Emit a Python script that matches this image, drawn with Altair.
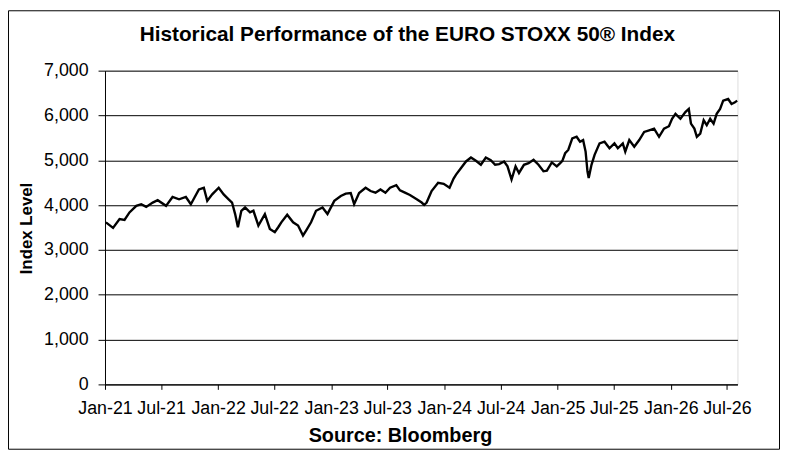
import altair as alt
import pandas as pd

dates = [
    "2021-01-04", "2021-01-27", "2021-02-17", "2021-03-05", "2021-03-21", "2021-04-12",
    "2021-04-28", "2021-05-14", "2021-06-04", "2021-06-20", "2021-07-17", "2021-08-07",
    "2021-08-28", "2021-09-19", "2021-10-05", "2021-10-31", "2021-11-16", "2021-11-27",
    "2021-12-13", "2022-01-03", "2022-01-19", "2022-02-04", "2022-02-15", "2022-02-25",
    "2022-03-06", "2022-03-17", "2022-03-29", "2022-04-14", "2022-04-25", "2022-05-11",
    "2022-06-01", "2022-06-17", "2022-07-03", "2022-07-14", "2022-07-24", "2022-08-12",
    "2022-08-31", "2022-09-16", "2022-10-02", "2022-10-12", "2022-10-28", "2022-11-13",
    "2022-12-04", "2022-12-20", "2023-01-11", "2023-02-01", "2023-02-17", "2023-03-05",
    "2023-03-16", "2023-04-01", "2023-04-22", "2023-05-08", "2023-05-24", "2023-06-09",
    "2023-06-25", "2023-07-10", "2023-07-30", "2023-08-11", "2023-08-27", "2023-09-12",
    "2023-10-04", "2023-10-20", "2023-10-28", "2023-11-05", "2023-11-21", "2023-12-12",
    "2023-12-30", "2024-01-18", "2024-01-31", "2024-02-08", "2024-02-24", "2024-03-11",
    "2024-03-27", "2024-04-12", "2024-04-28", "2024-05-14", "2024-05-30", "2024-06-13",
    "2024-06-26", "2024-07-12", "2024-07-23", "2024-08-05", "2024-08-18", "2024-08-29",
    "2024-09-14", "2024-09-29", "2024-10-15", "2024-10-31", "2024-11-16", "2024-11-27",
    "2024-12-13", "2024-12-29", "2025-01-09", "2025-01-16", "2025-01-25", "2025-02-04",
    "2025-02-17", "2025-03-03", "2025-03-14", "2025-03-24", "2025-04-01", "2025-04-07",
    "2025-04-11", "2025-04-20", "2025-04-30", "2025-05-16", "2025-06-01", "2025-06-17",
    "2025-07-03", "2025-07-14", "2025-07-30", "2025-08-07", "2025-08-20", "2025-09-05",
    "2025-09-21", "2025-10-07", "2025-10-23", "2025-11-08", "2025-11-24", "2025-12-10",
    "2025-12-26", "2026-01-05", "2026-01-16", "2026-02-01", "2026-02-17", "2026-02-28",
    "2026-03-07", "2026-03-18", "2026-03-26", "2026-04-06", "2026-04-17", "2026-04-27",
    "2026-05-08", "2026-05-19", "2026-05-29", "2026-06-09", "2026-06-19", "2026-07-05",
    "2026-07-16", "2026-07-27", "2026-08-03",
]
values = [
    3616, 3493, 3690, 3670, 3837, 3984,
    4020, 3960, 4057, 4110, 3984, 4182,
    4130, 4182, 4020, 4351, 4387, 4095,
    4240, 4387, 4240, 4130, 4057, 3800,
    3506, 3874, 3947, 3837, 3874, 3544,
    3800, 3470, 3396, 3506, 3616, 3786,
    3616, 3544, 3323, 3433, 3616, 3874,
    3947, 3800, 4094, 4204, 4255, 4270,
    4020, 4270, 4387, 4314, 4277, 4350,
    4277, 4387, 4446, 4329, 4277, 4226,
    4131, 4057, 4006, 4057, 4314, 4497,
    4475, 4387, 4593, 4681, 4827, 4974,
    5062, 4988, 4900, 5062, 5004, 4900,
    4915, 4974, 4864, 4571, 4864, 4717,
    4900, 4937, 5011, 4900, 4754, 4768,
    4952, 4864, 4937, 4988, 5157, 5231,
    5488, 5525, 5415, 5450, 5194, 4754,
    4607, 4900, 5121, 5377, 5415, 5268,
    5377, 5268, 5377, 5194, 5451, 5304,
    5451, 5634, 5670, 5707, 5524, 5707,
    5760, 5927, 6037, 5927, 6075, 6147,
    5817, 5707, 5524, 5597, 5892, 5782,
    5927, 5817, 6037, 6147, 6330, 6367,
    6257, 6293, 6330,
]
y_ticks = [0, 1000, 2000, 3000, 4000, 5000, 6000, 7000]
x_tick_years_months = [(y, m) for y in range(2021, 2027) for m in (1, 7)]

df = pd.DataFrame({"date": dates, "value": values})

FONT = "Liberation Sans"
W, H = 639, 317
PAD_L, PAD_T, PAD_R, PAD_B = 98, 61, 43, 66

x_values = [alt.DateTime(year=y, month=m, date=1, utc=True) for y, m in x_tick_years_months]

line = alt.Chart(df).mark_line(color="black", strokeWidth=2.4).encode(
    x=alt.X(
        "date:T",
        scale=alt.Scale(
            type="utc",
            domain=[alt.DateTime(year=2021, month=1, date=1, utc=True),
                    alt.DateTime(year=2026, month=8, date=4, utc=True)],
        ),
        axis=alt.Axis(
            values=x_values, labelExpr="utcFormat(datum.value, '%b-%y')", grid=False,
            title="Source: Bloomberg", titleFont=FONT, titleFontSize=20,
            titleFontWeight="bold", titleColor="black",
            titleX=298, titleY=58, titleBaseline="alphabetic",
            labelFont=FONT, labelFontSize=18, labelColor="black",
            labelPadding=10, tickSize=5, tickColor="black", domainColor="black",
            labelOverlap=False, labelFlush=False,
        ),
    ),
    y=alt.Y(
        "value:Q",
        scale=alt.Scale(domain=[0, 7000], nice=False),
        axis=alt.Axis(
            values=y_ticks, format=",.0f", grid=True, gridColor="black", gridWidth=1,
            title="Index Level", titleFont=FONT, titleFontSize=17,
            titleFontWeight="bold", titleColor="black",
            titleX=-79, titleY=159, titleAngle=270, titleBaseline="middle",
            titleAlign="center",
            labelFont=FONT, labelFontSize=18, labelColor="black",
            labelPadding=10, tickSize=7, tickColor="black", domainColor="black",
        ),
    ),
)

frame_df = pd.DataFrame({"k": [0]})
frame = alt.Chart(frame_df).mark_rect(filled=False, color="black", strokeWidth=1).encode(
    x=alt.value(-PAD_L + 0.5),
    x2=alt.value(W + PAD_R - 0.5),
    y=alt.value(-PAD_T + 0.5),
    y2=alt.value(H + PAD_B - 0.5),
)

chart = alt.layer(line, frame).properties(
    width=W,
    height=H,
    autosize=alt.AutoSizeParams(type="none"),
    padding={"left": PAD_L, "top": PAD_T, "right": PAD_R, "bottom": PAD_B},
    title=alt.TitleParams(
        "Historical  Performance of the EURO STOXX 50\u00ae Index",
        font=FONT, fontSize=21, fontWeight="bold", color="black",
        anchor="middle", frame="group", dx=-14, offset=0, dy=35,
    ),
).configure_view(strokeWidth=0).configure(background="white")

chart.save("out.html", embed_options={"renderer": "svg", "actions": False})
